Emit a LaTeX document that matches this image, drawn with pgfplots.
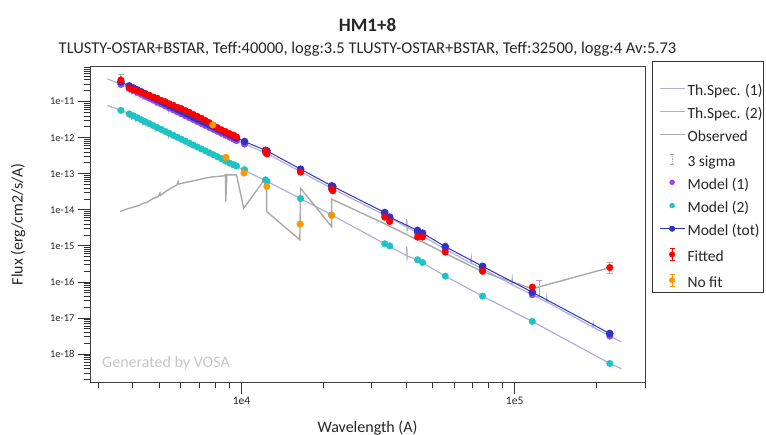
\documentclass[border=0pt]{standalone}
\usepackage{pgfplots}
\pgfplotsset{compat=1.18}
\usepackage{fontspec}
\setmainfont{Carlito}
\definecolor{thspec}{RGB}{175,175,222}
\definecolor{obs}{RGB}{170,170,170}
\definecolor{mone}{RGB}{150,70,240}
\definecolor{mtwo}{RGB}{30,195,195}
\definecolor{mtot}{RGB}{50,50,195}
\definecolor{fit}{RGB}{255,0,0}
\definecolor{nofit}{RGB}{255,150,0}
\begin{document}
\begin{tikzpicture}
\path[use as bounding box] (-90pt,-53pt) rectangle (676pt,382pt);
\begin{axis}[
  name=ax, at={(0,0)}, anchor=south west,
  scale only axis, width=555pt, height=315pt,
  xmode=log, ymode=log,
  xmin=2790, xmax=3.0e5, ymin=1.68e-19, ymax=9.1e-11,
  axis line style={draw=black!75, line width=1pt},
  tick align=outside, xtick pos=left, ytick pos=left,
  major tick length=12pt, minor tick length=6pt,
  every tick/.style={black!80, line width=0.8pt},
  xtick={1e4,1e5}, xticklabels={1e4,1e5},
  minor xtick={3000,4000,5000,6000,7000,8000,9000,20000,30000,40000,50000,60000,70000,80000,90000,200000,300000},
  ytick={1e-18,1e-17,1e-16,1e-15,1e-14,1e-13,1e-12,1e-11},
  yticklabels={1e-18,1e-17,1e-16,1e-15,1e-14,1e-13,1e-12,1e-11},
  minor ytick={2e-19,3e-19,4e-19,5e-19,6e-19,7e-19,8e-19,9e-19,
    2e-18,3e-18,4e-18,5e-18,6e-18,7e-18,8e-18,9e-18,
    2e-17,3e-17,4e-17,5e-17,6e-17,7e-17,8e-17,9e-17,
    2e-16,3e-16,4e-16,5e-16,6e-16,7e-16,8e-16,9e-16,
    2e-15,3e-15,4e-15,5e-15,6e-15,7e-15,8e-15,9e-15,
    2e-14,3e-14,4e-14,5e-14,6e-14,7e-14,8e-14,9e-14,
    2e-13,3e-13,4e-13,5e-13,6e-13,7e-13,8e-13,9e-13,
    2e-12,3e-12,4e-12,5e-12,6e-12,7e-12,8e-12,9e-12,
    2e-11,3e-11,4e-11,5e-11,6e-11,7e-11,8e-11,9e-11},
  xticklabel style={font=\fontsize{11.5}{13}\selectfont, text=black!85},
  yticklabel style={font=\fontsize{10.5}{12}\selectfont, text=black!85},
  xlabel={Wavelength (A)}, ylabel={Flux (erg/cm2/s/A)},
  xlabel style={at={(axis description cs:0.5,-0.145)}, anchor=center, font=\fontsize{16}{19}\selectfont, text=black!85},
  ylabel style={at={(axis description cs:-0.1297,0.5)}, anchor=center, font=\fontsize{16}{19}\selectfont, text=black!85},
  legend style={at={(1,1)}, anchor=north west, xshift=13.7pt, yshift=-16.9pt,
    draw=none, fill=none, inner xsep=0pt, inner ysep=0pt,
    row sep=8.2pt, font=\fontsize{15.5}{18}\selectfont, text=black!85,
    nodes={text height=11pt, text depth=4pt, inner ysep=0pt, inner xsep=2.2pt},
    cells={anchor=west}},
]
% Th.Spec. (1)
\addplot[thspec, line width=1.2pt, mark=none,
  legend image code/.code={\draw[thspec, line width=1.2pt] (0pt,3.5pt) -- (25pt,3.5pt);}]
coordinates {
(3232,4.26e-11)(3621,3.02e-11)
(3880,2.33e-11)(3889,1.75e-11)(3898,2.30e-11)
(3960,2.17e-11)(3970,1.60e-11)(3980,2.14e-11)
(4092,1.92e-11)(4102,1.40e-11)(4112,1.89e-11)
(4330,1.56e-11)(4340,1.12e-11)(4350,1.54e-11)
(4460,1.39e-11)(4471,1.20e-11)(4482,1.37e-11)
(4850,1.03e-11)(4861,7.60e-12)(4872,1.02e-11)
(5400,6.90e-12)(5411,6.00e-12)(5422,6.80e-12)
(6550,3.38e-12)(6563,2.70e-12)(6576,3.35e-12)
(8737,1.17e-12)(10260,6.64e-13)(12250,3.79e-13)(16460,1.14e-13)
(21390,3.92e-14)(33460,7.15e-15)
(40100,3.40e-15)(40300,5.60e-15)(40400,2.70e-15)(40600,3.25e-15)
(44100,2.27e-15)(55700,8.11e-16)
(69000,3.35e-16)(69400,4.8e-16)(69800,3.2e-16)
(76300,2.31e-16)
(97500,8.5e-17)(98000,1.22e-16)(98500,8.1e-17)
(116000,4.43e-17)
(130500,2.80e-17)(131000,3.6e-17)(131500,2.75e-17)
(193000,5.6e-18)(194000,7.0e-18)(195000,5.4e-18)
(223000,3.16e-18)(246000,2.15e-18)
};
\addlegendentry{Th.Spec. (1)}
% Th.Spec. (2)
\addplot[thspec, line width=1.2pt, mark=none,
  legend image code/.code={\draw[thspec, line width=1.2pt] (0pt,3.5pt) -- (25pt,3.5pt);}]
coordinates {
(3232,7.75e-12)(3621,5.75e-12)
(3880,4.55e-12)(3889,3.4e-12)(3898,4.5e-12)
(3960,4.25e-12)(3970,3.1e-12)(3980,4.2e-12)
(4092,3.75e-12)(4102,2.75e-12)(4112,3.7e-12)
(4330,3.05e-12)(4340,2.2e-12)(4350,3.0e-12)
(4460,2.72e-12)(4471,2.35e-12)(4482,2.68e-12)
(4850,2.0e-12)(4861,1.48e-12)(4872,1.98e-12)
(5400,1.35e-12)(5411,1.17e-12)(5422,1.33e-12)
(6550,6.6e-13)(6563,5.3e-13)(6576,6.5e-13)
(8737,2.25e-13)(10260,1.25e-13)(12250,6.4e-14)(16460,2.05e-14)
(21390,7.2e-15)(33460,1.14e-15)
(40100,5.4e-16)(40300,9.7e-16)(40400,4.4e-16)(40600,5.2e-16)
(44100,4.1e-16)(55700,1.45e-16)(76300,4.03e-17)(116000,8.0e-18)
(223000,5.5e-19)(246000,3.9e-19)
};
\addlegendentry{Th.Spec. (2)}
% Observed
\addplot[obs, line width=1.4pt, mark=none,
  legend image code/.code={\draw[obs, line width=1.4pt] (0pt,3.5pt) -- (25pt,3.5pt);}]
coordinates {
(3597,8.95e-15)(3800,1.05e-14)(4083,1.23e-14)(4200,1.30e-14)(4383,1.53e-14)
(4500,1.60e-14)(4768,2.10e-14)(4950,2.30e-14)(5030,2.90e-14)(5050,2.50e-14)
(5300,3.30e-14)(5805,4.92e-14)(5860,6.00e-14)(5890,5.20e-14)(6320,5.85e-14)
(7000,6.90e-14)(7694,8.04e-14)(8610,8.73e-14)(8737,9.30e-14)(8760,1.69e-14)
(8840,9.30e-14)(9590,9.30e-14)(10190,1.11e-14)(12000,6.07e-14)(12360,5.60e-14)
(12370,8.95e-15)(16360,1.47e-15)(16450,3.98e-14)(21370,3.43e-15)(21390,1.98e-14)
(33460,4.09e-15)(34900,3.48e-15)(44100,1.47e-15)(46000,1.29e-15)(55700,6.22e-16)
(76300,1.91e-16)(116000,6.46e-17)(223000,2.50e-16)
};
\addlegendentry{Observed}
% 3 sigma
\addplot[only marks, mark=o, mark size=0pt, mark options={draw=none, fill=none},
  legend image code/.code={\draw[obs, line width=0.9pt, densely dotted] (12.5pt,-1.5pt) -- (12.5pt,8.5pt); \draw[obs, line width=0.9pt] (10.5pt,-1.5pt) -- (14.5pt,-1.5pt) (10.5pt,8.5pt) -- (14.5pt,8.5pt);},
  error bars/.cd, y dir=both, y explicit,
  error bar style={obs, line width=1pt, solid},
  error mark options={obs, line width=1pt, mark size=3pt, rotate=90}]
  coordinates {
  (3621,3.99e-11) += (0,1.5e-11) -= (0,1.2e-11)
  (123000,6.46e-17) += (0,4.5e-17) -= (0,2.6e-17)
  (223000,2.50e-16) += (0,8.7e-17) -= (0,8.1e-17)
};
\addlegendentry{3 sigma}
% Model (1)
\addplot[only marks, mark=*, mark size=3.3pt, mark options={draw=mone, fill=mone},
  legend image code/.code={\fill[mone] (12.5pt,3.5pt) circle (2.5pt);}]
coordinates {
(3621,3.00e-11)(3883,2.311e-11)(4016,2.041e-11)(4154,1.802e-11)(4297,1.591e-11)
(4444,1.405e-11)(4597,1.242e-11)(4755,1.096e-11)(4918,9.68e-12)(5087,8.55e-12)
(5262,7.55e-12)(5443,6.66e-12)(5630,5.89e-12)(5824,5.20e-12)(6024,4.60e-12)
(6231,4.06e-12)(6445,3.58e-12)(6667,3.17e-12)(6896,2.79e-12)(7133,2.47e-12)
(7378,2.18e-12)(7632,1.92e-12)(7894,1.70e-12)(8166,1.50e-12)(8446,1.326e-12)
(8737,1.170e-12)(9037,1.034e-12)(9347,9.13e-13)(9587,8.31e-13)
(10260,6.64e-13)(12250,3.79e-13)(12400,3.66e-13)(16460,1.14e-13)(21390,3.92e-14)
(21600,3.79e-14)(33460,7.15e-15)(34900,5.33e-15)(44100,2.27e-15)(46000,1.92e-15)
(55700,8.11e-16)(76300,2.31e-16)(116000,4.43e-17)(223000,3.16e-18)
};
\addlegendentry{Model (1)}
% Model (2)
\addplot[only marks, mark=*, mark size=3.3pt, mark options={draw=mtwo, fill=mtwo},
  legend image code/.code={\fill[mtwo] (12.5pt,3.5pt) circle (2.5pt);}]
coordinates {
(3621,5.7e-12)(3883,4.56e-12)(4016,4.03e-12)(4154,3.56e-12)(4297,3.14e-12)
(4444,2.77e-12)(4597,2.45e-12)(4755,2.16e-12)(4918,1.91e-12)(5087,1.69e-12)
(5262,1.49e-12)(5443,1.32e-12)(5630,1.16e-12)(5824,1.03e-12)(6024,9.07e-13)
(6231,8.01e-13)(6445,7.07e-13)(6667,6.25e-13)(6896,5.51e-13)(7133,4.87e-13)
(7378,4.30e-13)(7632,3.80e-13)(7894,3.36e-13)(8166,2.96e-13)(8446,2.62e-13)
(8737,2.25e-13)(9037,1.98e-13)(9347,1.78e-13)(9587,1.64e-13)
(10260,1.30e-13)(12250,6.77e-14)(12400,6.07e-14)(16460,2.05e-14)(21390,7.2e-15)
(33460,1.14e-15)(34900,1.0e-15)(44100,4.11e-16)(46000,3.46e-16)(55700,1.45e-16)
(76300,4.03e-17)(116000,8.02e-18)(223000,5.47e-19)
};
\addlegendentry{Model (2)}
% Model (tot)
\addplot[mtot, line width=1pt, mark=*, mark size=3.3pt, mark options={draw=mtot, fill=mtot},
  legend image code/.code={\draw[mtot, line width=1pt] (0pt,3.5pt) -- (25pt,3.5pt); \fill[mtot] (12.5pt,3.5pt) circle (2.5pt);}]
coordinates {
(3621,3.52e-11)(3883,2.716e-11)(4016,2.398e-11)(4154,2.118e-11)(4297,1.870e-11)
(4444,1.651e-11)(4597,1.459e-11)(4755,1.288e-11)(4918,1.138e-11)(5087,1.005e-11)
(5262,8.87e-12)(5443,7.83e-12)(5630,6.92e-12)(5824,6.11e-12)(6024,5.40e-12)
(6231,4.77e-12)(6445,4.21e-12)(6667,3.72e-12)(6896,3.28e-12)(7133,2.90e-12)
(7378,2.56e-12)(7632,2.26e-12)(7894,2.00e-12)(8166,1.76e-12)(8446,1.558e-12)
(8737,1.375e-12)(9037,1.215e-12)(9347,1.073e-12)(9587,9.77e-13)
(10260,7.8e-13)(12250,4.45e-13)(12400,4.3e-13)(16460,1.34e-13)(21390,4.61e-14)
(21600,4.45e-14)(33460,8.4e-15)(34900,6.26e-15)(44100,2.67e-15)(46000,2.26e-15)
(55700,9.53e-16)(76300,2.71e-16)(116000,5.2e-17)(223000,3.71e-18)
};
\addlegendentry{Model (tot)}
% Fitted
\addplot[only marks, mark=*, mark size=3.3pt, mark options={draw=fit, fill=fit},
  legend image code/.code={\draw[fit, line width=1pt] (12.5pt,-2.5pt) -- (12.5pt,9.5pt) (10pt,-2.5pt) -- (15pt,-2.5pt) (10pt,9.5pt) -- (15pt,9.5pt); \fill[fit] (12.5pt,3.5pt) circle (2.8pt);}]
coordinates {
(3621,3.99e-11)(3883,2.40e-11)(4016,2.15e-11)(4154,1.98e-11)(4297,1.82e-11)
(4444,1.63e-11)(4597,1.50e-11)(4755,1.33e-11)(4918,1.24e-11)(5087,1.08e-11)
(5262,9.9e-12)(5443,8.7e-12)(5630,7.9e-12)(5824,6.95e-12)(6024,6.4e-12)
(6231,5.6e-12)(6445,5.05e-12)(6667,4.4e-12)(6896,3.9e-12)(7133,3.45e-12)
(7378,3.0e-12)(7632,2.6e-12)(7894,2.2e-12)(8166,1.9e-12)(8446,1.65e-12)
(8737,1.48e-12)(9037,1.30e-12)(9347,1.18e-12)(9587,1.05e-12)
(12250,4.39e-13)(12400,3.56e-13)(16460,1.11e-13)(21390,3.74e-14)(21600,3.36e-14)
(33460,6.26e-15)(34900,4.73e-15)(44100,1.75e-15)(46000,1.75e-15)(55700,6.71e-16)
(76300,1.97e-16)(116000,7.2e-17)(223000,2.50e-16)
};
\addlegendentry{Fitted}
% No fit
\addplot[only marks, mark=*, mark size=3.3pt, mark options={draw=nofit, fill=nofit},
  legend image code/.code={\draw[nofit, line width=1pt] (12.5pt,-2.5pt) -- (12.5pt,9.5pt) (10pt,-2.5pt) -- (15pt,-2.5pt) (10pt,9.5pt) -- (15pt,9.5pt); \fill[nofit] (12.5pt,3.5pt) circle (2.8pt);}]
coordinates {
(7849,2.26e-12)(8772,2.84e-13)(10210,1.04e-13)(12380,4.41e-14)(16390,4.03e-15)(21390,6.94e-15)
};
\addlegendentry{No fit}
\end{axis}
\draw[black!80, line width=0.8pt] (562pt,89.7pt) rectangle (673.5pt,320.3pt);
\node[font=\fontsize{19}{22}\bfseries\selectfont, text=black!85] at ([yshift=42pt]ax.north) {HM1+8};
\node[font=\fontsize{16.5}{19}\selectfont, text=black!85] at ([yshift=18pt]ax.north) {TLUSTY-OSTAR+BSTAR, Teff:40000, logg:3.5 TLUSTY-OSTAR+BSTAR, Teff:32500, logg:4 Av:5.73};
\node[font=\fontsize{16}{19}\selectfont, text=black!22] at ([xshift=76pt,yshift=19pt]ax.south west) {Generated by VOSA};
\end{tikzpicture}
\end{document}
